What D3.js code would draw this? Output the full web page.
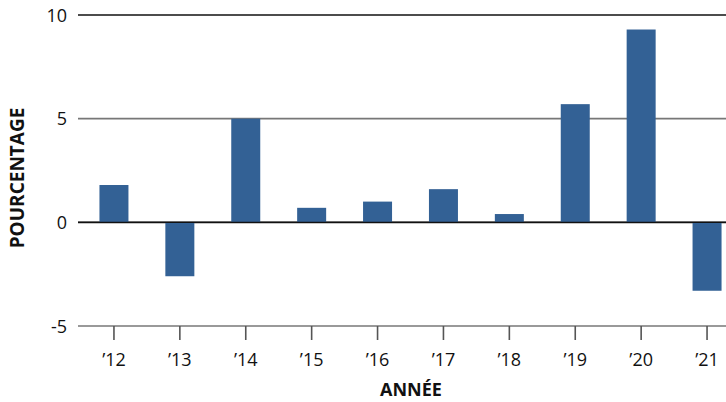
<!DOCTYPE html>
<html>
<head>
<meta charset="utf-8">
<script src="https://cdn.jsdelivr.net/npm/d3@7"></script>
<style>
  body { margin: 0; background: #fff; }
  text { font-family: "Open Sans", "Noto Sans", sans-serif; fill: #111; }
</style>
</head>
<body>
<svg id="chart"></svg>
<script>
// Données
var annees = ["'12", "'13", "'14", "'15", "'16", "'17", "'18", "'19", "'20", "'21"];
var valeurs = [1.8, -2.6, 5.0, 0.7, 1.0, 1.6, 0.4, 5.7, 9.3, -3.3];
var ticksY = [10, 5, 0, -5];
var libellesX = ["\u201912", "\u201913", "\u201914", "\u201915", "\u201916", "\u201917", "\u201918", "\u201919", "\u201920", "\u201921"];

var width = 726, height = 402;
var left = 78;

var svg = d3.select("#chart").attr("width", width).attr("height", height);

var x = d3.scaleBand().domain(annees).range([81, 740]).paddingInner(0.56).paddingOuter(0.28);
var y = d3.scaleLinear().domain([-5, 10]).range([326, 15]);

// Lignes de grille
svg.selectAll(".grid")
  .data(ticksY)
  .enter().append("line")
  .attr("x1", left).attr("x2", width)
  .attr("y1", d => y(d)).attr("y2", d => y(d))
  .style("stroke", d => (d === 10 || d === 0) ? "#111" : "#777")
  .style("stroke-width", 1.6);

// Étiquettes Y
svg.selectAll(".ylab")
  .data(ticksY)
  .enter().append("text")
  .attr("x", 67).attr("y", d => y(d) + 6.5)
  .attr("text-anchor", "end")
  .style("font-size", "18px")
  .text(d => d);

// Barres
svg.selectAll(".bar")
  .data(valeurs)
  .enter().append("rect")
  .attr("x", (d, i) => x(annees[i]))
  .attr("width", x.bandwidth())
  .attr("y", d => y(Math.max(0, d)))
  .attr("height", d => Math.abs(y(d) - y(0)))
  .style("fill", "#336195");

// Ligne zéro au-dessus
svg.append("line")
  .attr("x1", left).attr("x2", width)
  .attr("y1", y(0)).attr("y2", y(0))
  .style("stroke", "#111").style("stroke-width", 1.4);

// Graduations X
svg.selectAll(".tick")
  .data(annees)
  .enter().append("line")
  .attr("x1", d => x(d) + x.bandwidth() / 2).attr("x2", d => x(d) + x.bandwidth() / 2)
  .attr("y1", y(-5)).attr("y2", y(-5) + 14)
  .style("stroke", "#555").style("stroke-width", 1.6);

svg.selectAll(".xlab")
  .data(annees)
  .enter().append("text")
  .attr("x", d => x(d) + x.bandwidth() / 2)
  .attr("y", 366)
  .attr("text-anchor", "middle")
  .style("font-size", "18px")
  .text((d, i) => libellesX[i]);

// Titres des axes
svg.append("text")
  .attr("transform", "translate(24,178) rotate(-90)")
  .attr("text-anchor", "middle")
  .style("font-size", "19px").style("font-weight", "bold")
  .text("POURCENTAGE");

svg.append("text")
  .attr("x", 411).attr("y", 396)
  .attr("text-anchor", "middle")
  .style("font-size", "18px").style("font-weight", "bold")
  .text("ANNÉE");
</script>
</body>
</html>
